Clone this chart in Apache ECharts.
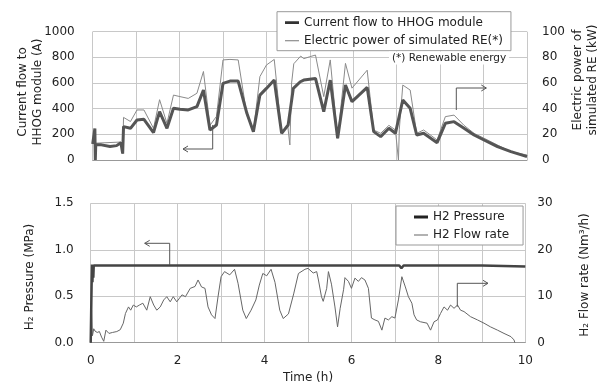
<!DOCTYPE html>
<html><head><meta charset="utf-8">
<script src="https://cdn.jsdelivr.net/npm/echarts@6/dist/echarts.min.js"></script>
<style>html,body{margin:0;padding:0;background:#fff}#c{width:597px;height:385px}</style>
</head><body><div id="c"></div>
<script>
// Top panel: time (h) vs current (A)
var currentFlow = [[0,125],[0.04,120],[0.05,245],[0.06,0],[0.07,118],[0.2,118],[0.4,105],[0.55,112],[0.65,135],[0.68,140],[0.69,50],[0.71,260],[0.87,247],[1.02,312],[1.18,317],[1.4,213],[1.54,377],[1.71,247],[1.86,403],[2.01,395],[2.2,390],[2.4,416],[2.55,545],[2.7,234],[2.85,273],[3.0,597],[3.16,615],[3.35,615],[3.55,364],[3.7,221],[3.85,506],[4.0,558],[4.18,623],[4.35,208],[4.5,273],[4.62,558],[4.78,610],[4.86,623],[5.13,636],[5.32,377],[5.47,623],[5.64,169],[5.82,584],[5.97,455],[6.32,566],[6.47,221],[6.63,182],[6.82,247],[6.97,208],[7.14,468],[7.31,403],[7.46,195],[7.62,208],[7.93,135],[8.12,286],[8.32,299],[8.55,247],[8.78,195],[9.01,156],[9.32,104],[9.63,65],[10,26]];
// Top panel: time (h) vs electric power (kW)
var rePower = [[0,13],[0.65,14],[0.68,14],[0.69,5],[0.71,33.2],[0.87,30],[1.02,39],[1.18,39],[1.4,24.7],[1.54,47],[1.71,28.6],[1.86,50.6],[2.01,49.4],[2.2,48],[2.4,52],[2.55,69],[2.7,27],[2.85,34],[3.0,78],[3.16,78.4],[3.35,78],[3.55,35],[3.7,22],[3.85,65],[4.0,74],[4.18,78.4],[4.35,21],[4.49,27],[4.54,11.7],[4.58,60],[4.63,75],[4.79,81],[4.86,79],[5.0,80.5],[5.13,81.8],[5.32,49.4],[5.47,78],[5.64,17],[5.82,75.3],[5.97,56],[6.32,70],[6.47,23.4],[6.63,20.8],[6.82,27],[6.97,23.4],[7.04,0],[7.06,24],[7.14,58.4],[7.31,54.5],[7.46,20.8],[7.62,23.4],[7.93,15.6],[8.12,33.8],[8.32,35],[8.55,27],[8.78,20.8],[9.01,17],[9.32,11.7],[9.63,6.5],[10,3.9]];
// Bottom panel: H2 pressure (MPa)
var h2Pressure = [[0,0],[0.02,0.6],[0.03,0.84],[0.04,0.65],[0.05,0.84],[0.06,0.7],[0.07,0.83],[1.0,0.83],[2.0,0.83],[3.0,0.83],[4.0,0.83],[5.0,0.83],[6.0,0.83],[7.1,0.83],[7.15,0.8],[7.2,0.83],[8.0,0.83],[9.0,0.83],[10,0.82]];
// Bottom panel: H2 flow rate (Nm3/h)
var h2Flow = [[0,0],[0.02,7],[0.04,1.5],[0.07,3],[0.1,2.5],[0.15,2.2],[0.2,2.4],[0.25,1.2],[0.3,0.3],[0.35,2.7],[0.42,2.0],[0.5,2.2],[0.6,2.4],[0.68,2.8],[0.75,4.2],[0.8,6.3],[0.87,7.7],[0.92,7],[0.98,8.1],[1.05,7.7],[1.12,8.1],[1.2,8.5],[1.29,7],[1.37,9.9],[1.45,8.1],[1.52,7],[1.6,7.7],[1.68,9.2],[1.75,9.9],[1.83,8.8],[1.9,9.9],[1.98,8.8],[2.1,10.3],[2.18,9.9],[2.29,11.7],[2.4,12.1],[2.47,13.5],[2.55,12],[2.63,11.7],[2.7,7.7],[2.78,6],[2.86,5.2],[2.93,9.9],[3.0,14.2],[3.08,15.3],[3.2,14.6],[3.31,15.8],[3.39,12.8],[3.5,7],[3.58,5.2],[3.69,7],[3.8,9.2],[3.88,12.4],[3.96,14.9],[4.05,14.4],[4.15,15.8],[4.24,13],[4.35,7],[4.43,5.2],[4.55,6.2],[4.67,10.5],[4.78,14.9],[4.93,15.8],[5.0,16],[5.12,15],[5.2,15.3],[5.24,13.5],[5.31,9.9],[5.35,8.9],[5.43,11.7],[5.47,15.3],[5.54,12.6],[5.62,7.7],[5.68,3.4],[5.74,7.4],[5.82,11.5],[5.85,14],[5.93,13.2],[6.0,11.7],[6.08,13.9],[6.16,13.2],[6.23,14],[6.31,13.5],[6.39,11.7],[6.46,5.3],[6.54,4.9],[6.62,4.6],[6.7,2.7],[6.77,5.3],[6.85,4.9],[6.93,5.6],[7.0,5.3],[7.08,9.2],[7.16,14.2],[7.24,12],[7.31,9.9],[7.39,8.5],[7.44,6],[7.5,4.9],[7.59,4.5],[7.74,4.2],[7.82,2.7],[7.9,4.5],[7.98,4.9],[8.05,6.3],[8.13,7.7],[8.21,7],[8.28,8.1],[8.36,7.4],[8.44,8.1],[8.51,7],[8.59,6.7],[8.74,5.6],[8.9,4.9],[9.05,4.2],[9.2,3.4],[9.36,2.7],[9.51,2],[9.67,1.3],[9.74,0.6],[9.76,0]];

var FONT = 'DejaVu Sans';
var TXT = '#222';
var GRIDC = '#c8c8c8';
var chart = echarts.init(document.getElementById('c'), null, {renderer:'canvas'});

// legend line icons (tiny corner marks keep the bounding box at 14x10)
var CORNERS = 'M0,0 L0.01,0 L0,0.01 Z M14,10 L13.99,10 L14,9.99 Z ';
var ICON_THICK = 'path://' + CORNERS + 'M0,3.6 L14,3.6 L14,6.4 L0,6.4 Z';
var ICON_THIN  = 'path://' + CORNERS + 'M0,4.5 L14,4.5 L14,5.5 L0,5.5 Z';

function yAx(gi, min, max, interval, pos, split, fmt, margin){
  return {type:'value', gridIndex:gi, min:min, max:max, interval:interval, position:pos,
    axisLine:{show:false}, axisTick:{show:false},
    axisLabel:{color:TXT, fontFamily:FONT, fontSize:12, margin:margin, formatter:fmt},
    splitLine:{show:split, lineStyle:{color:GRIDC, width:1}}};
}
function arrow(pts, dir){
  var end = pts[pts.length-1], x=end[0], y=end[1];
  var head = dir==='left' ? [[x+5,y-3],[x,y],[x+5,y+3]] : [[x-5,y-3],[x,y],[x-5,y+3]];
  return [
    {type:'polyline', shape:{points:pts}, style:{stroke:'#555', lineWidth:1, fill:null}, z:100},
    {type:'polyline', shape:{points:head}, style:{stroke:'#555', lineWidth:1, fill:null}, z:100}
  ];
}
function vtext(text, x, y){
  return {type:'text', x:x, y:y, rotation:Math.PI/2, z:100,
    style:{text:text, fill:TXT, font:'12px "'+FONT+'"', align:'center', verticalAlign:'middle', lineHeight:15}};
}
var plain = function(v){ return String(v); };

var graphics = [].concat(
  arrow([[212.7,125],[212.7,149],[183,149]],'left'),
  arrow([[456.3,110],[456.3,88],[486.3,88]],'right'),
  arrow([[169.7,265],[169.7,243.3],[144.7,243.3]],'left'),
  arrow([[457.3,306.7],[457.3,283.3],[488,283.3]],'right'),
  [
    vtext('Current flow to\nHHOG module (A)', 30, 92),
    vtext('Electric power of\nsimulated RE (kW)', 585, 80),
    vtext('H\u2082 Pressure (MPa)', 30, 277),
    vtext('H\u2082 Flow rate (Nm\u00b3/h)', 585, 275),
    {type:'text', x:308, y:378, z:100, style:{text:'Time (h)', fill:TXT, font:'12px "'+FONT+'"', align:'center', verticalAlign:'middle'}},
    {type:'text', x:389, y:58, z:100, style:{text:'(*) Renewable energy', fill:TXT, font:'10.5px "'+FONT+'"', align:'left', verticalAlign:'middle', backgroundColor:'#fff', padding:[1,3,1,3]}}
  ]
);

chart.setOption({
  animation:false,
  backgroundColor:'#fff',
  grid:[
    {left:92.7, right:70, top:31.7, height:128.3},
    {left:90.7, right:71.7, top:203.3, height:139.4}
  ],
  xAxis:[
    {type:'value', gridIndex:0, min:0, max:10, interval:1,
      axisLine:{show:true, onZero:false, lineStyle:{color:'#999'}}, axisTick:{show:false}, axisLabel:{show:false},
      splitLine:{show:true, lineStyle:{color:GRIDC}}},
    {type:'value', gridIndex:1, min:0, max:10, interval:1,
      axisLine:{show:true, onZero:false, lineStyle:{color:'#999'}}, axisTick:{show:false},
      axisLabel:{color:TXT, fontFamily:FONT, fontSize:12, margin:12, formatter:function(v){return v%2===0?String(v):'';}},
      splitLine:{show:true, lineStyle:{color:GRIDC}}}
  ],
  yAxis:[
    yAx(0,0,1000,200,'left',true,plain,18),
    yAx(0,0,100,20,'right',false,plain,15),
    yAx(1,0,1.5,0.5,'left',true,function(v){return v.toFixed(1);},17),
    yAx(1,0,30,10,'right',false,plain,12)
  ],
  legend:[
    {data:[{name:'Current flow to HHOG module', icon:ICON_THICK, itemStyle:{color:'#333'}},
           {name:'Electric power of simulated RE(*)', icon:ICON_THIN, itemStyle:{color:'#777'}}],
      orient:'vertical', left:277, top:11.7, itemWidth:14, itemHeight:10, itemGap:6, padding:[5,8,4,8],
      borderColor:'#999', borderWidth:1, backgroundColor:'#fff',
      textStyle:{color:TXT, fontFamily:FONT, fontSize:12}},
    {data:[{name:'H2 Pressure', icon:ICON_THICK, itemStyle:{color:'#222'}},
           {name:'H2 Flow rate', icon:ICON_THIN, itemStyle:{color:'#666'}}],
      orient:'vertical', left:396, top:206, itemWidth:14, itemHeight:10, itemGap:6, padding:[5,14,4,18],
      borderColor:'#999', borderWidth:1, backgroundColor:'#fff',
      textStyle:{color:TXT, fontFamily:FONT, fontSize:12}}
  ],
  series:[
    {name:'Electric power of simulated RE(*)', type:'line', xAxisIndex:0, yAxisIndex:1, data:rePower,
      symbol:'none', lineStyle:{color:'#8a8a8a', width:1}, itemStyle:{color:'#777'}, z:2},
    {name:'Current flow to HHOG module', type:'line', xAxisIndex:0, yAxisIndex:0, data:currentFlow,
      symbol:'none', lineStyle:{color:'#555', width:3}, itemStyle:{color:'#333'}, z:3},
    {name:'H2 Flow rate', type:'line', xAxisIndex:1, yAxisIndex:3, data:h2Flow,
      symbol:'none', lineStyle:{color:'#666', width:1}, itemStyle:{color:'#666'}, z:2},
    {name:'H2 Pressure', type:'line', xAxisIndex:1, yAxisIndex:2, data:h2Pressure,
      symbol:'none', lineStyle:{color:'#444', width:2.5}, itemStyle:{color:'#222'}, z:3}
  ],
  graphic:graphics
});
</script>
</body></html>
